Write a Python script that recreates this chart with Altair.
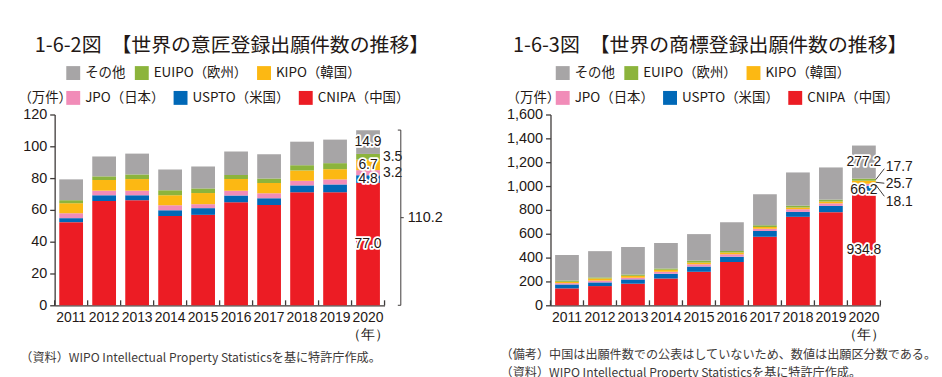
import altair as alt
import pandas as pd

# ---------------- data ----------------
years = [str(y) for y in range(2011, 2021)]
offices = ["CNIPA（中国）", "USPTO（米国）", "JPO（日本）", "KIPO（韓国）", "EUIPO（欧州）", "その他"]  # bottom -> top
colors = ["#ec1c24", "#0068b7", "#f18cb8", "#fcb813", "#8cb43c", "#a7a5a6"]
legend_row1 = ["その他", "EUIPO（欧州）", "KIPO（韓国）"]
legend_row2 = ["JPO（日本）", "USPTO（米国）", "CNIPA（中国）"]

design_cnipa = [52.3, 65.6, 66.1, 56.1, 56.9, 64.8, 63.1, 71.1, 71.1, 77.0]
design_uspto = [2.5, 3.6, 3.1, 3.7, 4.2, 4.2, 4.2, 4.3, 4.9, 4.8]
design_jpo = [3.1, 2.9, 2.9, 3.1, 2.5, 3.1, 3.1, 2.9, 3.2, 3.2]
design_kipo = [6.3, 6.7, 7.3, 6.3, 7.0, 7.3, 6.5, 6.5, 6.4, 6.7]
design_euipo = [1.9, 2.3, 2.9, 3.1, 2.9, 2.5, 2.9, 3.3, 3.8, 3.5]
design_other = [13.1, 12.5, 13.1, 13.1, 13.8, 14.8, 15.2, 14.8, 14.8, 14.9]
design_total_2020 = 110.2

tm_cnipa = [141.7, 161, 181, 225, 281, 364, 575, 742, 781, 934.8]
tm_uspto = [33, 31, 36, 39, 44, 44, 47, 41, 52, 66.2]
tm_jpo = [11, 15, 14, 17, 19, 20, 20, 23, 22, 18.1]
tm_kipo = [11, 18, 16, 16, 14, 14, 14, 14, 15, 25.7]
tm_euipo = [11, 9, 11, 11, 17, 14, 16, 16, 16, 17.7]
tm_other = [214, 220, 231, 214, 222, 241, 259, 278, 270, 277.2]

title_design = "1-6-2図　【世界の意匠登録出願件数の推移】"
title_tm = "1-6-3図　【世界の商標登録出願件数の推移】"
note_design = ["（資料）WIPO Intellectual Property Statisticsを基に特許庁作成。"]
note_tm = ["（備考）中国は出願件数での公表はしていないため、数値は出願区分数である。",
           "（資料）WIPO Intellectual Property Statisticsを基に特許庁作成。"]
unit_label = "（万件）"
year_suffix = "（年）"

# ---------------- styling ----------------
DARK = "#231815"
AXIS = "#3e3a39"
NUM_FONT = "'Liberation Sans Narrow', 'Liberation Sans', sans-serif"
JP_FONT = "'Noto Sans CJK JP', 'Noto Sans', sans-serif"
W, H = 332, 192
N = len(years)
P_IN, P_OUT = 0.28, 0.14
STEP = W / (N - P_IN + 2 * P_OUT)
BAR_HALF = STEP * (1 - P_IN) / 2
cmap = dict(zip(offices, colors))


def stack_df(series):
    rows = []
    for i, yr in enumerate(years):
        base = 0.0
        for k, off in enumerate(offices):
            v = series[k][i]
            rows.append(dict(year=yr, office=off, value=v, y0=base, y1=base + v,
                             mid=base + v / 2, order=k))
            base += v
    return pd.DataFrame(rows)


def panel(df, title, title_dx, ymax, ystep, yfmt, unit_x, leg_x, note, note_x, note_y,
          inside, outside_simple, outside_leader, brace_total=None):
    xs = alt.Scale(domain=years, paddingInner=P_IN, paddingOuter=P_OUT)
    ys = alt.Scale(domain=[0, ymax], nice=False, zero=True)
    xaxis = alt.Axis(
        title=note, titleX=note_x, titleY=note_y, titleAlign="left", titleBaseline="top",
        titleFont=JP_FONT, titleFontSize=12.2, titleFontWeight="normal", titleColor="#3e3a39",
        titleLineHeight=18, labelAngle=0, ticks=False, domainColor=AXIS, domainWidth=1.3,
        labelFont=NUM_FONT, labelFontSize=14, labelColor=DARK, labelPadding=5,
        labelLineHeight=17,
        labelExpr=f"datum.label == '{years[-1]}' ? ['{years[-1]}', '{year_suffix}'] : datum.label",
    )
    yaxis = alt.Axis(
        title=unit_label, titleAngle=0, titleX=unit_x, titleY=-16.7, titleAlign="left",
        titleBaseline="middle", titleFont=JP_FONT, titleFontSize=13.5, titleFontWeight="normal",
        titleColor=DARK, values=list(range(0, ymax + 1, ystep)), format=yfmt, grid=False,
        domainColor=AXIS, domainWidth=1.3, tickColor=AXIS, tickSize=5, tickWidth=1.3,
        labelFont=NUM_FONT, labelFontSize=14.5, labelColor=DARK, labelPadding=3,
    )
    X = alt.X("year:N", scale=xs, axis=xaxis)

    def Y(f):
        return alt.Y(f"{f}:Q", scale=ys, axis=yaxis)

    bars = alt.Chart(df).mark_bar().encode(
        x=X, y=Y("y0"), y2="y1",
        color=alt.Color("office:N", scale=alt.Scale(domain=offices, range=colors), legend=None),
    )

    def legend_layer(row, ly):
        return alt.Chart(df).transform_filter(
            alt.FieldOneOfPredicate(field="office", oneOf=row)
        ).mark_square(opacity=0).encode(
            x=X, y=Y("y1"),
            color=alt.Color("office:N",
                            scale=alt.Scale(domain=row, range=[cmap[o] for o in row]),
                            legend=alt.Legend(title=None, orient="none", legendX=leg_x, legendY=ly,
                                              direction="horizontal", symbolType="square",
                                              symbolSize=196, symbolOpacity=1, symbolStrokeWidth=0,
                                              labelFont=JP_FONT, labelFontSize=13.5, labelColor=DARK,
                                              labelOffset=5, columnPadding=9, padding=0)),
        )

    # upward x ticks at band boundaries
    ticks = alt.Chart(df[df.office == offices[0]]).mark_rule(
        xOffset=-STEP / 2, color=AXIS, strokeWidth=1.3
    ).encode(x=X, y=alt.value(H), y2=alt.value(H - 5))
    tick_end = alt.Chart(df[(df.office == offices[0]) & (df.year == years[-1])]).mark_rule(
        xOffset=STEP / 2, color=AXIS, strokeWidth=1.3
    ).encode(x=X, y=alt.value(H), y2=alt.value(H - 5))

    last = df[df.year == years[-1]]
    layers = [bars, ticks, tick_end, legend_layer(legend_row1, -48.7), legend_layer(legend_row2, -23.7)]

    lin = alt.Chart(last[last.office.isin(inside)]).encode(
        x=X, y=Y("mid"), text=alt.Text("value:Q", format=".1f"))
    layers.append(lin.mark_text(font=NUM_FONT, fontSize=14, stroke="white", strokeWidth=3.5,
                                strokeJoin="round", fill="white"))
    layers.append(lin.mark_text(font=NUM_FONT, fontSize=14, fill=DARK))

    if outside_simple:
        lout = alt.Chart(last[last.office.isin(outside_simple)]).encode(
            x=X, y=Y("mid"), text=alt.Text("value:Q", format=".1f"))
        layers.append(lout.mark_text(font=NUM_FONT, fontSize=14, fill=DARK, align="left",
                                     dx=BAR_HALF + 3))

    for off, line_dy, text_dy in outside_leader:
        sub = alt.Chart(last[last.office == off])
        layers.append(sub.mark_rule(color=AXIS, strokeWidth=1, xOffset=BAR_HALF,
                                    x2Offset=BAR_HALF + 8.6, y2Offset=line_dy).encode(
            x=X, x2="year:N", y=Y("mid"), y2="mid:Q"))
        layers.append(sub.mark_text(font=NUM_FONT, fontSize=14, fill=DARK, align="left",
                                    dx=BAR_HALF + 10, dy=text_dy).encode(
            x=X, y=Y("mid"), text=alt.Text("value:Q", format=".1f")))

    if brace_total is not None:
        bdf = pd.DataFrame(dict(year=[years[-1]], zero=[0.0], total=[brace_total],
                                half=[brace_total / 2]))
        bx = BAR_HALF + 21
        bc = alt.Chart(bdf)
        layers.append(bc.mark_rule(color=AXIS, strokeWidth=1, xOffset=bx).encode(
            x=X, y=Y("zero"), y2="total:Q"))
        for f in ["zero", "total"]:
            layers.append(bc.mark_rule(color=AXIS, strokeWidth=1, xOffset=bx - 3, x2Offset=bx).encode(
                x=X, x2="year:N", y=Y(f)))
        layers.append(bc.mark_rule(color=AXIS, strokeWidth=1, xOffset=bx, x2Offset=bx + 3).encode(
            x=X, x2="year:N", y=Y("half")))
        layers.append(bc.mark_text(font=NUM_FONT, fontSize=14.5, fill=DARK, align="left",
                                   dx=bx + 7).encode(
            x=X, y=Y("half"), text=alt.Text("total:Q", format=".1f")))

    return alt.layer(*layers).resolve_scale(color="independent").resolve_legend(
        color="independent").properties(
        width=W, height=H,
        title=alt.TitleParams(title, anchor="start", frame="group", font=JP_FONT, fontSize=20,
                              fontWeight="normal", color=DARK, dx=title_dx, offset=10),
    )


df_design = stack_df([design_cnipa, design_uspto, design_jpo, design_kipo, design_euipo, design_other])
df_tm = stack_df([tm_cnipa, tm_uspto, tm_jpo, tm_kipo, tm_euipo, tm_other])

left = panel(df_design, title_design, -20, 120, 20, "d", -37, 11.7, note_design, -35, 47,
             inside=["その他", "KIPO（韓国）", "USPTO（米国）", "CNIPA（中国）"],
             outside_simple=["EUIPO（欧州）", "JPO（日本）"], outside_leader=[],
             brace_total=design_total_2020)
right = panel(df_tm, title_tm, -37.7, 1600, 200, ",d", -44.7, 5.3, note_tm, -50.7, 44,
              inside=["その他", "USPTO（米国）", "CNIPA（中国）"], outside_simple=[],
              outside_leader=[("EUIPO（欧州）", -11, -13), ("KIPO（韓国）", 1, 1.5),
                              ("JPO（日本）", 11.5, 17)])

chart = alt.hconcat(left, right, spacing=57).resolve_scale(
    color="independent", x="independent", y="independent"
).resolve_legend(color="independent").configure_view(stroke=None).properties(
    padding={"left": 18, "top": 35, "right": 5, "bottom": 5}
)

chart.save("out.html", embed_options={"renderer": "svg", "actions": False})
